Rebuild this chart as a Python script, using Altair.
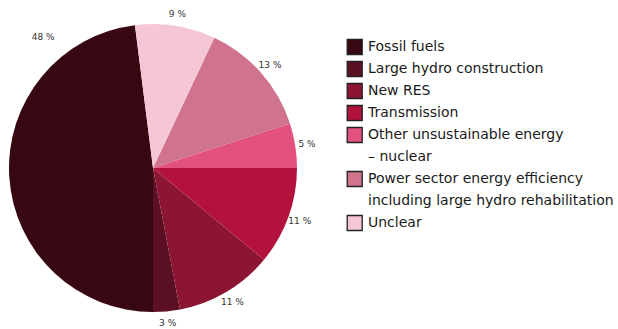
import altair as alt
import pandas as pd
import math

categories = [
    "Fossil fuels",
    "Large hydro construction",
    "New RES",
    "Transmission",
    "Other unsustainable energy|– nuclear",
    "Power sector energy efficiency|including large hydro rehabilitation",
    "Unclear",
]
shares = [48, 3, 11, 11, 5, 13, 9]
labels = ["48 %", "3 %", "11 %", "11 %", "5 %", "13 %", "9 %"]
colors = ["#380812", "#5c1024", "#8b1533", "#b3123d", "#e3517e", "#d0738c", "#f5c7d6"]

df = pd.DataFrame({
    "category": categories,
    "share": shares,
    "label": labels,
    "rank": list(range(len(categories))),
})

# legend lines (a category may wrap onto two lines)
leg_rows = []
line = 0
for cat in categories:
    parts = cat.split("|")
    for j, p in enumerate(parts):
        leg_rows.append({"category": cat, "text": p, "line": line, "first": j == 0})
        line += 1
leg = pd.DataFrame(leg_rows)
n_lines = line

start = -0.1257
theta_scale = alt.Scale(domain=[0, 100], range=[start, start + 2 * math.pi])
color_scale = alt.Scale(domain=categories, range=colors)
y_scale = alt.Scale(domain=[0, n_lines - 1], range=[33, 209])

base = alt.Chart(df).transform_window(
    cum="sum(share)", sort=[alt.SortField("rank", order="descending")]
).transform_calculate(
    t0="datum.cum - datum.share",
    t1="datum.cum",
    tl="datum.share > 40 ? datum.cum - 9.1 : datum.cum - datum.share / 2",
    rl="datum.share > 40 ? 171 : 156",
)

arcs = base.mark_arc(radius=144, stroke=None).encode(
    theta=alt.Theta("t0:Q", scale=theta_scale),
    theta2="t1:Q",
    color=alt.Color("category:N", scale=color_scale, legend=None),
)

texts = base.mark_text(font="DejaVu Sans", fontSize=9, color="#333333").encode(
    theta=alt.Theta("tl:Q", scale=theta_scale),
    radius=alt.Radius("rl:Q", scale=None),
    text="label:N",
)

leg_base = alt.Chart(leg)

leg_sq = leg_base.transform_filter("datum.first").mark_square(
    size=225, stroke="#222222", strokeWidth=1.3, opacity=1
).encode(
    x=alt.value(354.7),
    y=alt.Y("line:Q", scale=y_scale, axis=None),
    color=alt.Color("category:N", scale=color_scale, legend=None),
)

leg_txt = leg_base.mark_text(
    font="DejaVu Sans", fontSize=14, color="#1a1a1a", align="left", baseline="middle"
).encode(
    x=alt.value(368),
    y=alt.Y("line:Q", scale=y_scale, axis=None),
    text="text:N",
)

chart = alt.layer(arcs, texts, leg_sq, leg_txt).properties(
    width=306,
    height=308,
    autosize=alt.AutoSizeParams(type="none"),
    padding={"left": 0, "top": 14, "right": 312, "bottom": 7},
).configure_view(stroke=None)

chart.save("out.html", embed_options={"renderer": "svg", "actions": False})
